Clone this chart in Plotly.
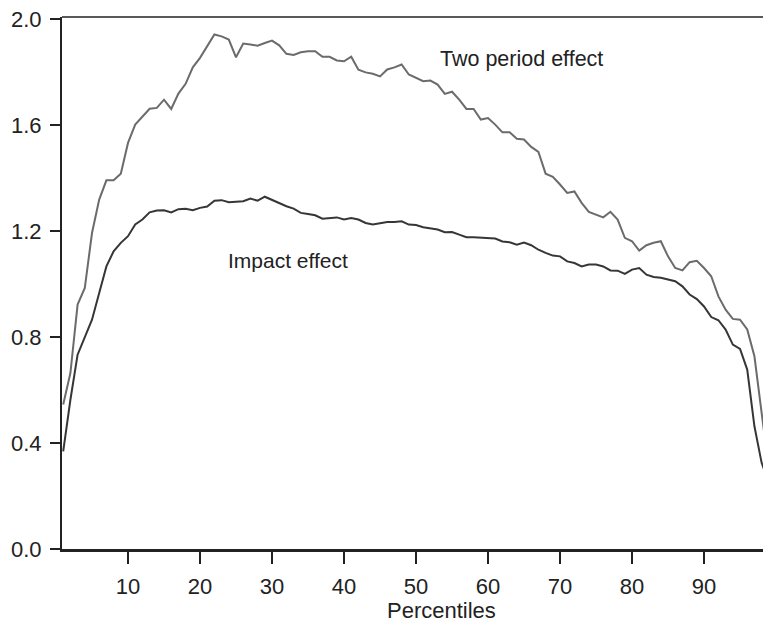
import plotly.graph_objects as go

percentiles = list(range(1, 100))

two_period = [
    0.545, 0.664, 0.922, 0.985, 1.192, 1.318, 1.391, 1.391, 1.416, 1.532,
    1.601, 1.632, 1.661, 1.664, 1.695, 1.660, 1.718, 1.755, 1.817, 1.853,
    1.897, 1.941, 1.934, 1.922, 1.855, 1.907, 1.903, 1.899, 1.909, 1.918,
    1.900, 1.868, 1.864, 1.874, 1.878, 1.878, 1.857, 1.857, 1.843, 1.840,
    1.857, 1.808, 1.798, 1.793, 1.783, 1.809, 1.817, 1.828, 1.790, 1.779,
    1.765, 1.767, 1.752, 1.717, 1.725, 1.695, 1.660, 1.660, 1.620, 1.626,
    1.601, 1.572, 1.572, 1.548, 1.545, 1.517, 1.498, 1.416, 1.404, 1.375,
    1.343, 1.349, 1.306, 1.272, 1.262, 1.251, 1.272, 1.243, 1.174, 1.161,
    1.126, 1.146, 1.155, 1.161, 1.104, 1.060, 1.051, 1.082, 1.087, 1.060,
    1.029, 0.953, 0.903, 0.868, 0.865, 0.828, 0.727, 0.503, 0.300,
]

impact = [
    0.368, 0.563, 0.733, 0.802, 0.865, 0.966, 1.066, 1.123, 1.155, 1.180,
    1.224, 1.243, 1.270, 1.277, 1.278, 1.270, 1.282, 1.284, 1.278, 1.287,
    1.292, 1.314, 1.316, 1.308, 1.309, 1.312, 1.322, 1.314, 1.329, 1.316,
    1.306, 1.293, 1.284, 1.268, 1.264, 1.259, 1.246, 1.249, 1.251, 1.243,
    1.249, 1.243, 1.230, 1.224, 1.230, 1.234, 1.234, 1.236, 1.224, 1.222,
    1.214, 1.209, 1.205, 1.195, 1.196, 1.186, 1.176, 1.176, 1.174, 1.171,
    1.171, 1.160, 1.157, 1.148, 1.156, 1.146, 1.129, 1.117, 1.107, 1.104,
    1.085, 1.079, 1.066, 1.073, 1.073, 1.066, 1.051, 1.050, 1.038, 1.054,
    1.060, 1.035, 1.026, 1.023, 1.016, 1.010, 0.991, 0.960, 0.943, 0.915,
    0.875, 0.863, 0.828, 0.771, 0.755, 0.677, 0.463, 0.325, 0.250,
]

x_ticks = [10, 20, 30, 40, 50, 60, 70, 80, 90]
y_ticks = [0.0, 0.4, 0.8, 1.2, 1.6, 2.0]
y_tick_labels = ["0.0", "0.4", "0.8", "1.2", "1.6", "2.0"]

FONT = "Liberation Sans, Arial, Helvetica, sans-serif"
AXIS = "#222222"
TEXT = "#222222"

fig = go.Figure()
fig.add_trace(go.Scatter(x=percentiles, y=two_period, mode="lines",
                         line=dict(color="#6b6b6b", width=2), name="Two period effect"))
fig.add_trace(go.Scatter(x=percentiles, y=impact, mode="lines",
                         line=dict(color="#363636", width=2), name="Impact effect"))

fig.add_annotation(x=53.0, y=1.848, xref="x", yref="y", text="Two period effect",
                   showarrow=False, xanchor="left", yanchor="middle",
                   font=dict(family=FONT, size=21.5, color=TEXT))
fig.add_annotation(x=23.6, y=1.088, xref="x", yref="y", text="Impact effect",
                   showarrow=False, xanchor="left", yanchor="middle",
                   font=dict(family=FONT, size=21, color=TEXT))
fig.add_annotation(x=53.5, y=0, xref="x", yref="paper", text="Percentiles",
                   showarrow=False, xanchor="center", yanchor="top", yshift=-47,
                   font=dict(family=FONT, size=22, color=TEXT))

# top border line of the box
fig.add_shape(type="line", xref="paper", yref="paper", x0=0, x1=1, y0=1, y1=1,
              line=dict(color=AXIS, width=1.5))

fig.update_layout(
    width=763, height=625,
    margin=dict(l=62, r=0, t=17, b=76),
    paper_bgcolor="white", plot_bgcolor="white",
    showlegend=False,
    font=dict(family=FONT, size=21, color=TEXT),
    xaxis=dict(range=[0.833, 98.19], tickmode="array", tickvals=x_ticks,
               showgrid=False, zeroline=False, showline=True, linecolor=AXIS,
               linewidth=3, ticks="outside", ticklen=12, tickwidth=1.5,
               tickcolor=AXIS, ticklabelstandoff=4,
               tickfont=dict(family=FONT, size=22, color=TEXT)),
    yaxis=dict(range=[0, 2.007], tickmode="array", tickvals=y_ticks,
               ticktext=y_tick_labels, showgrid=False, zeroline=False,
               showline=True, linecolor=AXIS, linewidth=2, ticks="outside",
               ticklen=10, tickwidth=1.5, tickcolor=AXIS, ticklabelstandoff=4,
               tickfont=dict(family=FONT, size=22, color=TEXT)),
)

fig.write_html("out.html")
